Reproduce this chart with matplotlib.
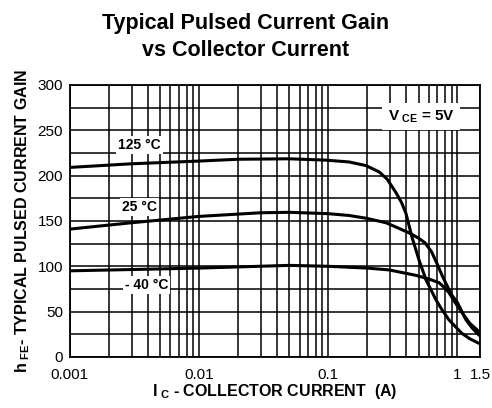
"""Typical pulsed current gain vs collector current."""

import matplotlib
matplotlib.use("Agg")
import matplotlib.pyplot as plt
from matplotlib.ticker import FixedLocator, LogLocator, MultipleLocator, NullFormatter

plt.rcParams['font.family'] = ['Liberation Sans', 'DejaVu Sans']
plt.rcParams['mathtext.fontset'] = 'custom'
plt.rcParams['mathtext.rm'] = 'Liberation Sans:bold'
plt.rcParams['mathtext.bf'] = 'Liberation Sans:bold'
plt.rcParams['mathtext.default'] = 'bf'

# collector current (A) and hFE
ic_125 = [0.001, 0.003, 0.01, 0.02, 0.05, 0.0966, 0.145, 0.196, 0.248, 0.286,
          0.335, 0.37, 0.40, 0.445, 0.504, 0.571, 0.682, 0.76, 0.859, 1.083,
          1.25, 1.47]
hfe_125 = [209, 213, 216, 218, 218.5, 217, 215, 211, 204, 196,
           181, 170, 158, 132, 107, 85, 63, 52, 41, 26,
           20, 15]

ic_25 = [0.001, 0.003, 0.01, 0.03, 0.05, 0.1, 0.145, 0.196, 0.28, 0.35,
         0.42, 0.50, 0.56, 0.63, 0.70, 0.76, 0.815, 0.907, 1.0, 1.164,
         1.3, 1.47]
hfe_25 = [141, 148, 155, 159, 159.5, 158, 156, 153, 148, 142,
          137, 131, 126, 116, 102, 90, 81, 68, 60, 41,
          32, 24]

ic_m40 = [0.001, 0.01, 0.05, 0.1, 0.2, 0.296, 0.478, 0.6, 0.719, 0.80,
          0.859, 0.95, 1.083, 1.25, 1.47]
hfe_m40 = [95, 98, 101, 100, 98, 96, 90, 86, 82, 76,
           71, 61, 49, 37, 28]

x_ticks = [0.001, 0.01, 0.1, 1, 1.5]
x_labels = ["0.001", "0.01", "0.1", "1", "1.5"]
y_ticks = [0, 50, 100, 150, 200, 250, 300]

fig = plt.figure(figsize=(4.92, 4.08), dpi=100)
ax = fig.add_axes([0.142, 0.125, 0.834, 0.667])

for ic, hfe in [(ic_125, hfe_125), (ic_25, hfe_25), (ic_m40, hfe_m40)]:
    ax.plot(ic, hfe, color='black', lw=2.2, solid_capstyle='round',
            solid_joinstyle='round', zorder=3)

ax.set_xscale('log')
ax.set_xlim(0.001, 1.5)
ax.set_ylim(0, 300)
ax.xaxis.set_major_locator(FixedLocator(x_ticks))
ax.set_xticklabels(x_labels)
ax.xaxis.set_minor_locator(LogLocator(base=10, subs=range(2, 10), numticks=20))
ax.xaxis.set_minor_formatter(NullFormatter())
ax.set_yticks(y_ticks)
ax.yaxis.set_minor_locator(MultipleLocator(25))

ax.grid(True, which='both', color='black', lw=1.1)
ax.set_axisbelow(True)
ax.tick_params(which='both', length=0, labelsize=11)
ax.tick_params(axis='x', pad=8)
ax.tick_params(axis='y', pad=5)
for s in ax.spines.values():
    s.set_linewidth(1.3)

box = dict(facecolor='white', edgecolor='none', pad=1.5)
ax.text(0.00347, 234, "125 °C", ha='center', va='center', fontsize=10,
        fontweight='bold', bbox=box, zorder=4)
ax.text(0.00347, 165, "25 °C", ha='center', va='center', fontsize=10,
        fontweight='bold', bbox=box, zorder=4)
ax.text(0.00393, 79, "- 40 °C", ha='center', va='center', fontsize=10,
        fontweight='bold', bbox=box, zorder=4)
ax.text(0.523, 265, r"V$_{\ CE}$ = 5V", ha='center', va='center', fontsize=11,
        fontweight='bold', bbox=dict(facecolor='white', edgecolor='none', pad=4),
        zorder=4)

fig.text(0.5, 0.91, "Typical Pulsed Current Gain\nvs Collector Current",
         ha='center', va='center', fontsize=15.5, fontweight='bold',
         linespacing=1.4)
ax.set_xlabel(r"I$_{\ C}$ - COLLECTOR CURRENT  (A)", fontsize=11.5,
              fontweight='bold', labelpad=0)
ax.set_ylabel(r"h$_{\ FE}$- TYPICAL PULSED CURRENT GAIN", fontsize=11.5,
              fontweight='bold', labelpad=4)

fig.savefig("out.png", dpi=100)
